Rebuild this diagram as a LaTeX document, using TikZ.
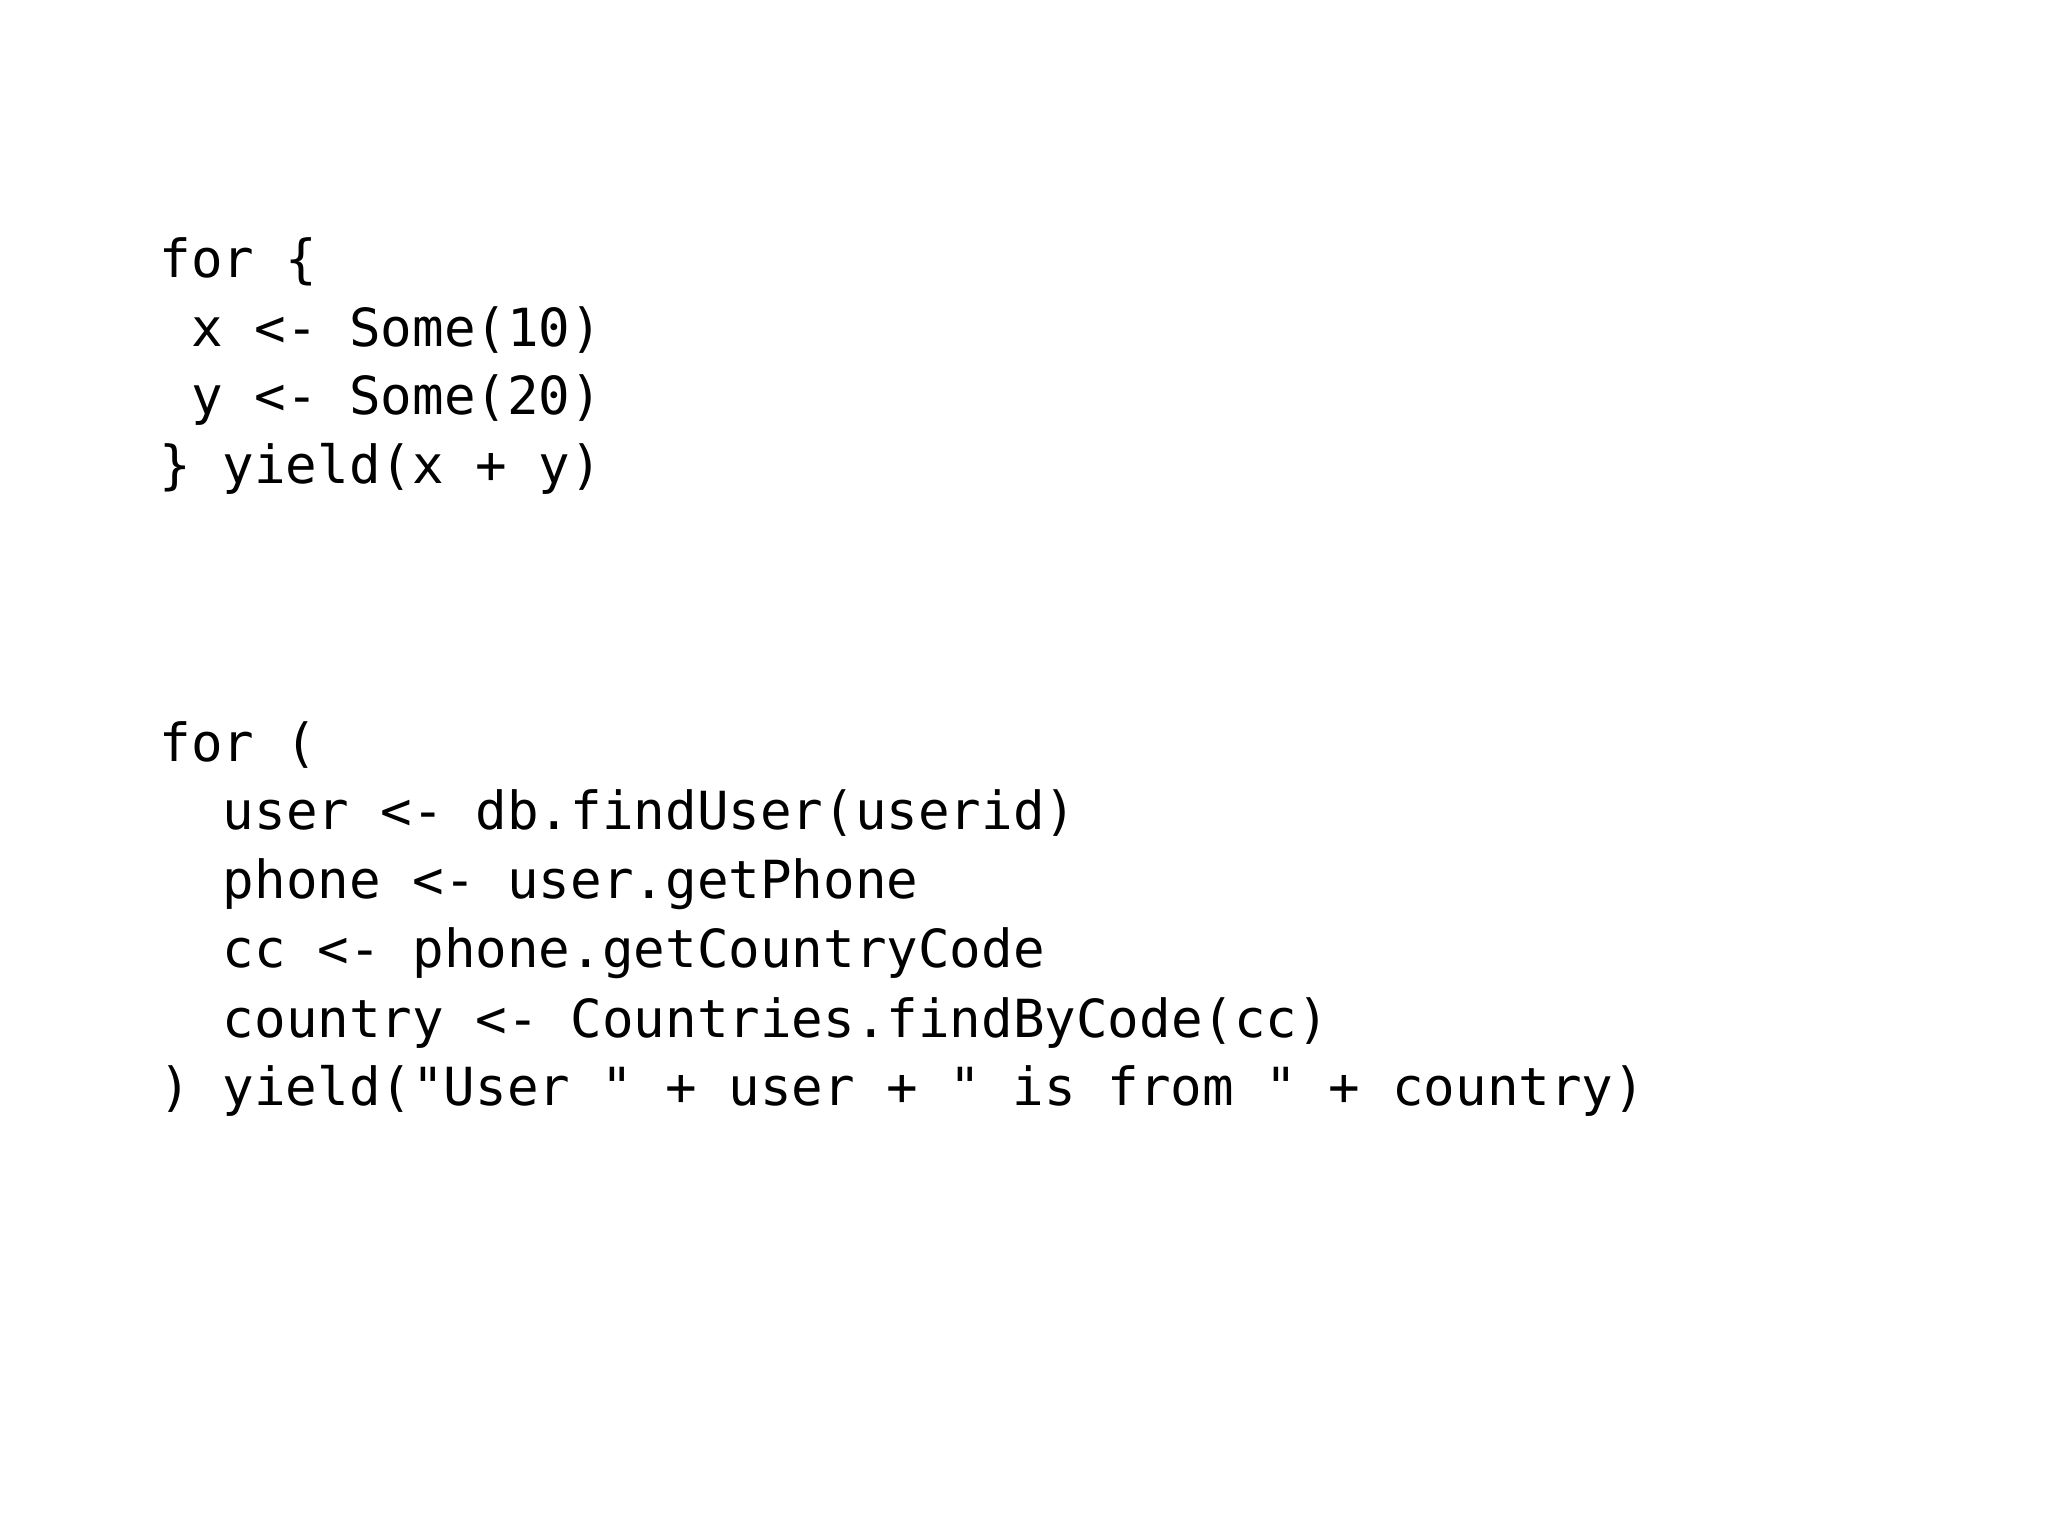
\documentclass[tikz,border=0pt]{standalone}
\usepackage{fontspec}
\setmonofont{DejaVu Sans Mono}
\begin{document}
\begin{tikzpicture}[x=0.01cm,y=-0.01cm,
  code/.style={anchor=base west,inner sep=0pt,font=\ttfamily\fontsize{11.3pt}{13pt}\selectfont}]
\useasboundingbox (0,0) rectangle (1550,1163);
\node[code] (a1) at (120,210) {for \{};
\node[code] (a2) at (144,262) {x <- Some(10)};
\node[code] (a3) at (144,314) {y <- Some(20)};
\node[code] (a4) at (120,366) {\} yield(x + y)};
\node[code] (b1) at (120,576) {for (};
\node[code] (b2) at (168,628) {user <- db.findUser(userid)};
\node[code] (b3) at (168,680) {phone <- user.getPhone};
\node[code] (b4) at (168,732) {cc <- phone.getCountryCode};
\node[code] (b5) at (168,785) {country <- Countries.findByCode(cc)};
\node[code] (b6) at (120,837) {) yield("User " + user + " is from " + country)};
\end{tikzpicture}
\end{document}
